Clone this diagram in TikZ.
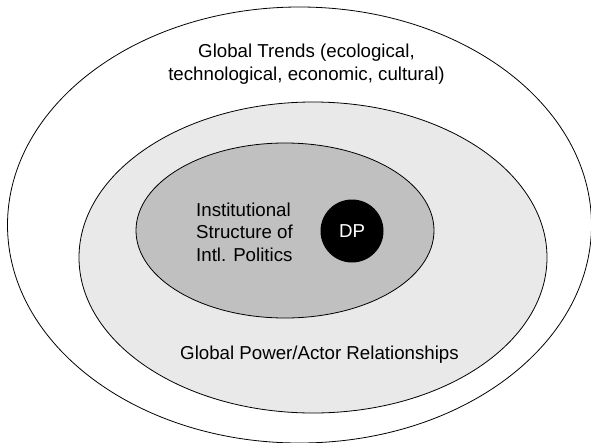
\documentclass[tikz,border=0pt]{standalone}
\usepackage{fontspec}
\setmainfont{Liberation Sans}
\usetikzlibrary{shapes.geometric}
\definecolor{ringgray}{HTML}{E9E9E9}
\definecolor{coregray}{HTML}{C0C0C0}
\begin{document}
\begin{tikzpicture}[x=1pt, y=-1pt,
    ring/.style={ellipse, draw=black, line width=0.8pt, inner sep=0pt},
    label/.style={font=\fontsize{18.7}{22.5}\selectfont, inner sep=0pt}]
    \useasboundingbox (0,0) rectangle (591,442);

    % Three nested fields
    \node[ring, minimum width=584, minimum height=436] (trends) at (299.5,225) {};
    \node[ring, fill=ringgray, minimum width=468, minimum height=311] (power) at (313,257.5) {};
    \node[ring, fill=coregray, minimum width=298, minimum height=175] (inst) at (285,230.5) {};

    % Domestic politics in the core
    \node[circle, fill=black, minimum size=63, inner sep=0pt] (dp) at (352,231) {};
    \node[label, text=white] (dptext) at (dp.center) {DP};

    % Labels (base = last line)
    \node[label, align=center, anchor=base] (trendstext) at (306.5,80)
        {Global Trends (ecological,\\technological, economic, cultural)};
    \node[label, anchor=base] (powertext) at (319.5,359) {Global Power/Actor Relationships};
    \node[label, align=left, anchor=base west] (insttext) at (196,261)
        {Institutional\\Structure of\\Intl. Politics};
\end{tikzpicture}
\end{document}
